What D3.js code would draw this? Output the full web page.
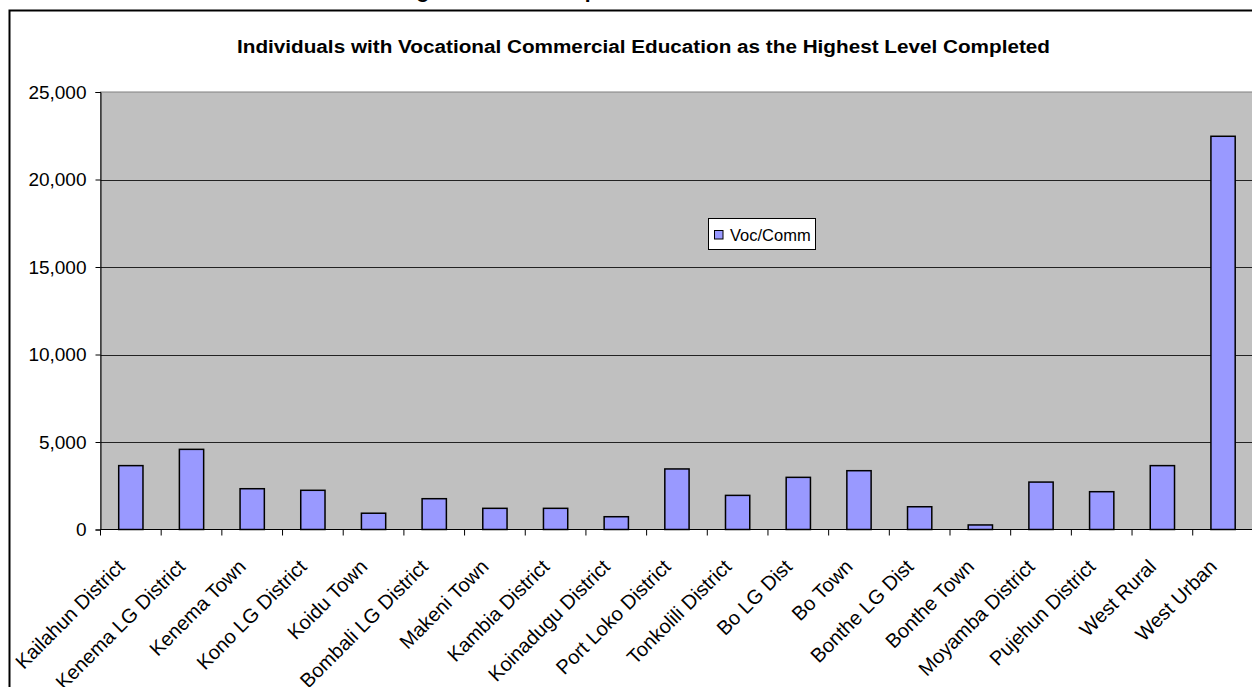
<!DOCTYPE html>
<html><head><meta charset="utf-8">
<script src="https://cdn.jsdelivr.net/npm/d3@7/dist/d3.min.js"></script>
<style>html,body{margin:0;padding:0;background:#fff;overflow:hidden}svg{display:block}text{font-family:"Liberation Sans",Arial,sans-serif}</style>
</head><body><svg id="c" width="1252" height="687"></svg>
<script>
const categories = ["Kailahun District","Kenema LG District","Kenema Town","Kono LG District","Koidu Town","Bombali LG District","Makeni Town","Kambia District","Koinadugu District","Port Loko District","Tonkolili District","Bo LG Dist","Bo Town","Bonthe LG Dist","Bonthe Town","Moyamba District","Pujehun District","West Rural","West Urban"];
const vocComm = [3650,4580,2330,2240,930,1760,1210,1210,730,3460,1950,2980,3360,1300,260,2710,2160,3650,22470];
const yTicks = [0,5000,10000,15000,20000,25000];
const seriesName = "Voc/Comm";
const chartTitle = "Individuals with Vocational Commercial Education as the Highest Level Completed";
const pageTitle = "Highest Level Completed";

const svg = d3.select("#c");
const L = 100.5, R = 1253.4, T = 92, B = 529.5;

// cut-off page title (only descenders visible)
svg.append("text").attr("x", 395.6).attr("y", -2.5).attr("font-size", 21).attr("font-weight", "bold").text(pageTitle);

// chart frame
svg.append("path").attr("d", `M9.5,700 V10.5 H1260`).attr("fill", "none").attr("stroke", "#000").attr("stroke-width", 2);

const x = d3.scaleBand().domain(categories).range([L, R]).paddingInner(0.6).paddingOuter(0.3);
const y = d3.scaleLinear().domain([0, 25000]).range([B, T]);

// plot area
svg.append("rect").attr("x", L).attr("y", T).attr("width", R - L).attr("height", B - T).attr("fill", "#C0C0C0").attr("stroke", "#808080").attr("stroke-width", 1);

// gridlines
svg.append("g").selectAll("line").data(yTicks.filter(d => d > 0 && d < 25000)).join("line")
  .attr("x1", L).attr("x2", R).attr("y1", d => Math.round(y(d)) + 0.5).attr("y2", d => Math.round(y(d)) + 0.5)
  .attr("stroke", "#222").attr("stroke-width", 1);

// bars
svg.append("g").selectAll("rect").data(vocComm).join("rect")
  .attr("x", (d, i) => x(categories[i])).attr("width", x.bandwidth())
  .attr("y", d => y(d)).attr("height", d => B - y(d))
  .attr("fill", "#9999FF").attr("stroke", "#000").attr("stroke-width", 1.5);

// y axis
const yAxis = svg.append("g").attr("transform", `translate(${L},0)`)
  .call(d3.axisLeft(y).tickValues(yTicks).tickFormat(d3.format(",")).tickSize(5).tickPadding(9));
yAxis.select(".domain").attr("stroke", "#000");
yAxis.selectAll(".tick line").attr("stroke", "#000");
yAxis.selectAll("text").attr("font-size", 19).attr("fill", "#000").attr("font-family", '"Liberation Sans",Arial,sans-serif');

// x axis line and ticks at band boundaries
svg.append("line").attr("x1", L).attr("x2", R).attr("y1", B).attr("y2", B).attr("stroke", "#000");
const step = x.step();
svg.append("g").selectAll("line").data(d3.range(categories.length + 1)).join("line")
  .attr("x1", i => L + i * step).attr("x2", i => L + i * step).attr("y1", B).attr("y2", B + 6).attr("stroke", "#000");

// x labels
svg.append("g").selectAll("text").data(categories).join("text")
  .attr("transform", d => `translate(${x(d) + x.bandwidth() / 2 - 5},568) rotate(-45)`)
  .attr("text-anchor", "end").attr("font-size", 20).attr("fill", "#000").text(d => d);

// chart title
svg.append("text").attr("x", 237).attr("y", 53).attr("font-size", 18).attr("font-weight", "bold")
  .attr("textLength", 813).attr("lengthAdjust", "spacingAndGlyphs").text(chartTitle);

// legend
const lg = svg.append("g");
lg.append("rect").attr("x", 708.5).attr("y", 218.5).attr("width", 107).attr("height", 31).attr("fill", "#fff").attr("stroke", "#000");
lg.append("rect").attr("x", 714.5).attr("y", 230.5).attr("width", 8.5).attr("height", 8.5).attr("fill", "#9999FF").attr("stroke", "#000");
lg.append("text").attr("x", 730).attr("y", 240.5).attr("font-size", 16.5).text(seriesName);
</script></body></html>
